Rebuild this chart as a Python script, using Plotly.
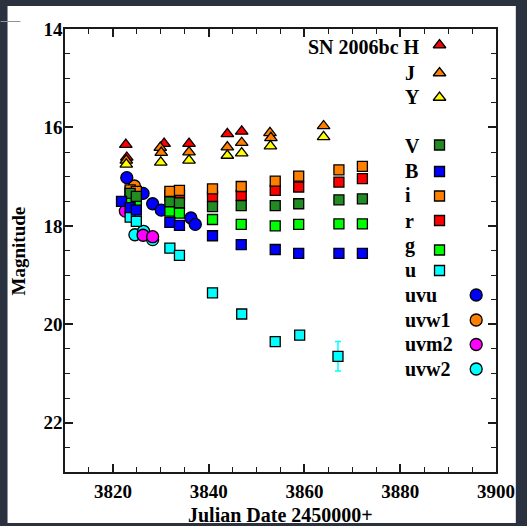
import plotly.graph_objects as go

# ---------------- SN 2006bc photometry (JD - 2450000, magnitude) ----------------
# near-infrared (triangles)
H_day = [3822.7, 3822.9, 3830.7, 3835.9, 3843.9, 3846.9]
H_mag = [16.35, 16.61, 16.33, 16.33, 16.13, 16.08]
J_day = [3822.8, 3829.9, 3830.1, 3835.9, 3843.9, 3846.9, 3852.8, 3853.0, 3864.0]
J_mag = [16.67, 16.41, 16.51, 16.50, 16.40, 16.31, 16.11, 16.21, 15.97]
Y_day = [3822.8, 3830.0, 3835.9, 3843.9, 3846.9, 3852.9, 3864.0]
Y_mag = [16.75, 16.71, 16.67, 16.57, 16.52, 16.38, 16.19]

# optical (squares)
opt_day = [3823.6, 3824.9, 3831.9, 3833.9, 3840.8, 3846.8, 3853.9, 3858.8, 3867.2, 3872.1]
V_mag = [17.34, 17.40, 17.51, 17.53, 17.61, 17.59, 17.59, 17.55, 17.47, 17.45]
i_mag = [17.27, 17.30, 17.30, 17.28, 17.25, 17.20, 17.09, 16.99, 16.86, 16.79]
r_mag = [17.31, 17.35, 17.38, 17.38, 17.40, 17.38, 17.28, 17.21, 17.11, 17.04]
g_mag = [17.50, 17.57, 17.70, 17.74, 17.87, 17.97, 18.00, 17.97, 17.96, 17.96]
B_day = [3821.8] + opt_day
B_mag = [17.50, 17.63, 17.68, 17.93, 17.99, 18.20, 18.38, 18.48, 18.56, 18.56, 18.56]
u_day = [3823.6, 3824.9, 3831.9, 3833.9, 3840.8, 3846.9, 3853.9, 3859.0, 3867.0]
u_mag = [17.82, 17.91, 18.45, 18.60, 19.36, 19.79, 20.35, 20.22, 20.65]
u_err = [0, 0, 0, 0, 0, 0, 0, 0, 0.30]

# Swift UVOT (circles)
uvu_day = [3822.9, 3826.3, 3828.3, 3830.1, 3836.3, 3837.2]
uvu_mag = [17.02, 17.34, 17.55, 17.68, 17.84, 17.97]
uvw1_day = [3824.5]
uvw1_mag = [17.19]
uvm2_day = [3822.6, 3826.3, 3828.3]
uvm2_mag = [17.70, 18.19, 18.22]
uvw2_day = [3824.6, 3826.4, 3828.3]
uvw2_mag = [18.18, 18.11, 18.28]

# ---------------- page geometry ----------------
W, HGT = 527, 526
ML, MR, MT, MB = 65, 27, 29, 54
PW, PH = W - ML - MR, HGT - MT - MB


def fx(x):
    """pixel column -> paper fraction"""
    return (x - ML) / PW


def fy(y):
    """pixel row -> paper fraction"""
    return (HGT - MB - y) / PH


FONT = "Liberation Serif"
INK = "#1a1a1a"
OUTLINE = dict(color="black", width=1.3)

fig = go.Figure()


def add(day, mag, color, symbol, size, err=None):
    kw = {}
    if err is not None:
        kw["error_y"] = dict(type="data", array=err, color=color,
                             thickness=1.5, width=3)
    fig.add_trace(go.Scatter(
        x=day, y=mag, mode="markers", showlegend=False, hoverinfo="skip",
        marker=dict(color=color, symbol=symbol, size=size, opacity=1,
                    line=OUTLINE), **kw))


# circles (UVOT) underneath
add(uvw2_day, uvw2_mag, "#00ffff", "circle", 12)
add(uvm2_day, uvm2_mag, "#ff00ff", "circle", 12)
add(uvw1_day, uvw1_mag, "#ff8000", "circle", 12)
add(uvu_day, uvu_mag, "#0000ff", "circle", 12)
# optical squares
add(opt_day, r_mag, "#ff0000", "square", 10)
add(opt_day, i_mag, "#ff8000", "square", 10)
add(opt_day, g_mag, "#00ff00", "square", 10)
add(u_day, u_mag, "#00ffff", "square", 10, err=u_err)
add(opt_day, V_mag, "#228b22", "square", 10)
add(B_day, B_mag, "#0000ff", "square", 10)
# NIR triangles on top
add(H_day, H_mag, "#ff0000", "triangle-up", 11)
add(J_day, J_mag, "#ff8000", "triangle-up", 11)
add(Y_day, Y_mag, "#ffff00", "triangle-up", 11)

# ---------------- in-panel key ----------------
key_names = ["SN 2006bc H", "J", "Y", "V", "B", "i", "r", "g", "u",
             "uvu", "uvw1", "uvm2", "uvw2"]
key_colors = ["#ff0000", "#ff8000", "#ffff00", "#228b22", "#0000ff", "#ff8000",
              "#ff0000", "#00ff00", "#00ffff", "#0000ff", "#ff8000", "#ff00ff", "#00ffff"]
key_symbols = ["triangle-up"] * 3 + ["square"] * 6 + ["circle"] * 4
key_sizes = [11] * 3 + [10] * 6 + [12] * 4
key_sym_x = [443] * 9 + [480] * 4
key_sym_y = [45, 73, 97.5, 145, 171.5, 196, 220.5, 250, 270.5, 295, 320, 344.5, 369]
key_text_y = [47, 72.5, 97, 146, 171, 195.5, 220.5, 245.5, 270,
              294.5, 319.5, 344, 368.5]

fig.add_trace(go.Scatter(
    x=[fx(v) for v in key_sym_x], y=[fy(v) for v in key_sym_y],
    xaxis="x2", yaxis="y2", mode="markers", showlegend=False, hoverinfo="skip",
    marker=dict(color=key_colors, symbol=key_symbols, size=key_sizes, opacity=1,
                line=OUTLINE)))

annotations = []
for k, (name, ty) in enumerate(zip(key_names, key_text_y)):
    if k == 0:
        annotations.append(dict(x=fx(425), y=fy(ty), xanchor="right", yanchor="middle",
                                text=name))
    else:
        annotations.append(dict(x=fx(406), y=fy(ty), xanchor="left", yanchor="middle",
                                text=name))
for a in annotations:
    a.update(xref="paper", yref="paper", showarrow=False,
             font=dict(family=FONT, size=20, color="black", weight="bold"))

# axis titles
annotations.append(dict(x=fx(282), y=fy(515), xref="paper", yref="paper",
                        xanchor="center", yanchor="middle", showarrow=False,
                        text="Julian Date 2450000+",
                        font=dict(family=FONT, size=20, color="black", weight="bold")))
annotations.append(dict(x=fx(18), y=fy(251), xref="paper", yref="paper",
                        xanchor="center", yanchor="middle", showarrow=False,
                        textangle=-90, text="Magnitude",
                        font=dict(family=FONT, size=19, color="black", weight="bold")))

# slide-style backdrop: white card on a dark background
shapes = [
    dict(type="rect", xref="paper", yref="paper", layer="below",
         x0=fx(7), x1=fx(520), y0=fy(523), y1=fy(6),
         fillcolor="white", line=dict(width=0)),
    dict(type="line", xref="paper", yref="paper", layer="below",
         x0=fx(0), x1=fx(20), y0=fy(21.5), y1=fy(21.5),
         line=dict(color="#8c939c", width=1)),
]

axis_common = dict(
    ticks="inside", ticklen=8, tickwidth=1.5, tickcolor=INK,
    showline=True, linecolor=INK, linewidth=1.5, mirror="allticks",
    showgrid=False, zeroline=False,
    tickfont=dict(family=FONT, size=19, color="black", weight="bold"),
)

fig.update_layout(
    width=W, height=HGT,
    margin=dict(l=ML, r=MR, t=MT, b=MB),
    paper_bgcolor="#2a3240",
    plot_bgcolor="white",
    xaxis=dict(range=[3810, 3900], tick0=3800, dtick=20, ticklabelstandoff=1,
               minor=dict(dtick=5, ticklen=5, tickwidth=1.2, tickcolor=INK,
                          ticks="inside", showgrid=False),
               **axis_common),
    yaxis=dict(range=[23, 14], tick0=14, dtick=2, ticklabelstandoff=-3,
               minor=dict(dtick=0.5, ticklen=5, tickwidth=1.2, tickcolor=INK,
                          ticks="inside", showgrid=False),
               **axis_common),
    xaxis2=dict(overlaying="x", anchor="y2", range=[0, 1], visible=False),
    yaxis2=dict(overlaying="y", anchor="x2", range=[0, 1], visible=False),
    annotations=annotations,
    shapes=shapes,
    showlegend=False,
)

fig.write_html("out.html")
